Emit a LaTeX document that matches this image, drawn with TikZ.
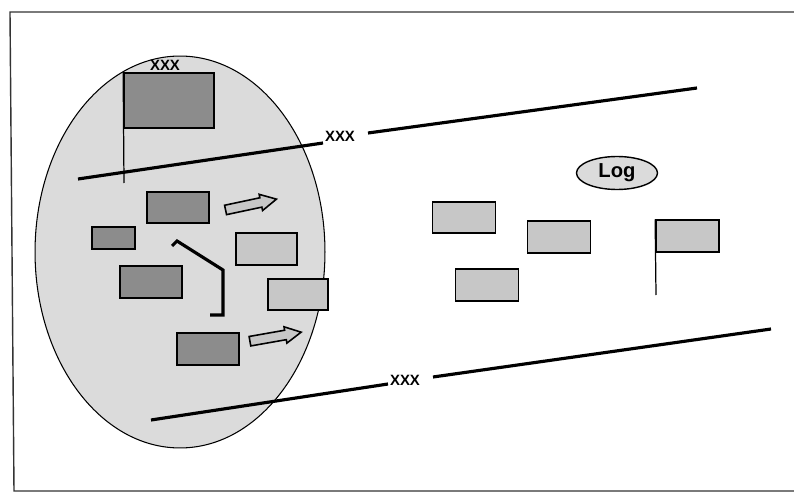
\documentclass[tikz,border=0pt]{standalone}
\usepackage{fontspec}
\setmainfont{Liberation Sans}
\usetikzlibrary{shapes.geometric, shapes.arrows}
\usetikzlibrary{positioning}
\def\dark{black!45}
\def\light{black!22}
\def\cellfill{black!14}
\tikzstyle{darkbox} = [rectangle, draw=black, line width=1pt, fill=\dark, minimum width=1.24cm, minimum height=0.63cm, inner sep=0pt]
\tikzstyle{lightbox} = [rectangle, draw=black, line width=1pt, fill=\light, minimum width=1.26cm, minimum height=0.63cm, inner sep=0pt]
\tikzstyle{lbl} = [inner sep=0pt, font=\fontsize{8.5}{9}\selectfont\bfseries]
\tikzstyle{bar} = [line width=1.8pt]
\tikzstyle{pole} = [line width=0.7pt]
\tikzstyle{blockarrow} = [single arrow, draw=black, line width=0.9pt, fill=\light, minimum height=1.04cm, inner sep=0.08cm, single arrow head extend=0.07cm, single arrow tip angle=55]

\begin{document}
\begin{tikzpicture}[x=0.02cm, y=-0.02cm]

  \path[use as bounding box, fill=white] (0,0) rectangle (794,493);
  \draw [line width=0.8pt, black!80] (794,12) -- (10,12) -- (14,491) -- (794,491);

  \node (cell) [ellipse, draw=black, line width=0.6pt, fill=\cellfill, minimum width=5.8cm, minimum height=7.84cm, inner sep=0pt] at (180,252) {};

  \node (bigbox) [darkbox, minimum width=1.8cm, minimum height=1.1cm] at (169,100.5) {};
  \node (toplbl) [lbl, above=1pt of bigbox, xshift=-0.08cm] {XXX};
  \coordinate (pole1) at (124,183);
  \draw [pole] (bigbox.north west) -- (pole1);

  \node (dbox1) [darkbox] at (178,207.5) {};
  \node (arr1) [blockarrow, rotate=12] at (246.5,205.5) {};
  \node (dbox2) [darkbox, minimum width=0.86cm, minimum height=0.44cm] at (113.5,238) {};
  \node (lbox1) [lightbox, minimum width=1.22cm] at (266.5,249) {};
  \node (dbox3) [darkbox] at (151,282) {};
  \node (lbox2) [lightbox, minimum width=1.2cm] at (298,294.5) {};
  \node (dbox4) [darkbox] at (208,349) {};
  \node (arr2) [blockarrow, rotate=10] at (271,337.5) {};

  \draw [bar, line join=miter] (172,246) -- (177,241) -- (223,270) -- (223,315) -- (210,315);

  % upper line
  \coordinate (up1) at (78,179);
  \coordinate (up2) at (323,143);
  \node (midlbl) [lbl] at (340,136.5) {XXX};
  \coordinate (up3) at (368,133);
  \coordinate (up4) at (697,88);
  \draw [bar] (up1) -- (up2);
  \draw [bar] (up3) -- (up4);

  % lower line
  \coordinate (lo1) at (151,420);
  \coordinate (lo2) at (388,384);
  \node (lowlbl) [lbl] at (405,380) {XXX};
  \coordinate (lo3) at (433,377);
  \coordinate (lo4) at (771,329);
  \draw [bar] (lo1) -- (lo2);
  \draw [bar] (lo3) -- (lo4);

  \node (log) [ellipse, draw=black, line width=0.8pt, fill=\cellfill, minimum width=1.62cm, minimum height=0.66cm, inner sep=0pt, font=\fontsize{11.5}{12}\selectfont\bfseries] at (617,173) {Log};

  \node (boxa) [lightbox] at (464,217.5) {};
  \node (boxb) [lightbox] at (559,237) {};
  \node (boxc) [lightbox] at (487,285) {};
  \node (flagbox) [lightbox] at (687.5,236) {};
  \coordinate (pole2) at (656,295);
  \draw [pole] (flagbox.north west) -- (pole2);

\end{tikzpicture}
\end{document}
